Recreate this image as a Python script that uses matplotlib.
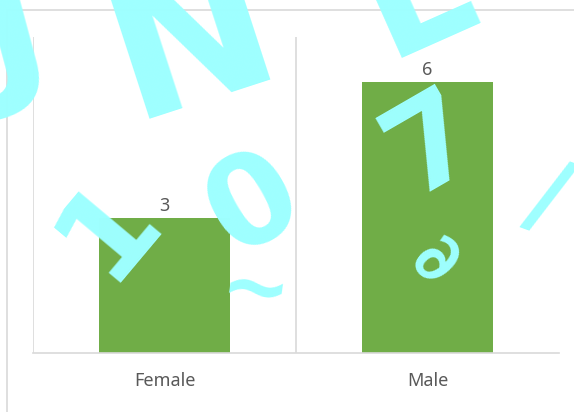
import matplotlib

matplotlib.use("Agg")
import matplotlib.pyplot as plt
from matplotlib.lines import Line2D

# gender counts
categories = ["Female", "Male"]
counts = [3, 6]

bar_color = "#70ad47"
grid_color = "#d9d9d9"
text_color = "#595959"
mark_color = "#9effff"

plt.rcParams["font.family"] = ["Noto Sans", "DejaVu Sans"]

W, H = 574, 412
fig = plt.figure(figsize=(W / 100, H / 100), dpi=100)
ax = fig.add_axes([33 / W, (H - 353) / H, (559 - 33) / W, (353 - 37) / H])

x = list(range(len(categories)))
bars = ax.bar(x, counts, width=0.5, color=bar_color, zorder=2)
for b, v in zip(bars, counts):
    ax.annotate(str(v), (b.get_x() + b.get_width() / 2, v), xytext=(0, 2),
                textcoords="offset points", ha="center", va="bottom",
                fontsize=13, color=text_color)

ax.set_xlim(-0.5, len(categories) - 0.5)
ax.set_ylim(0, 7)
ax.set_xticks(x)
ax.set_xticklabels(categories, fontsize=13, color=text_color)
ax.tick_params(axis="x", length=0, pad=14)
ax.set_yticks([])
# category separators
ax.set_xticks([i - 0.5 for i in x], minor=True)
ax.tick_params(axis="x", which="minor", length=0)
ax.grid(True, axis="x", which="minor", color=grid_color, lw=1.2, zorder=0)
for s in ["top", "right", "left"]:
    ax.spines[s].set_visible(False)
ax.spines["bottom"].set_color(grid_color)
ax.spines["bottom"].set_linewidth(1.2)

# outer chart frame
fig.add_artist(Line2D([7 / W, 1], [1 - 10 / H, 1 - 10 / H], color=grid_color, lw=1.2))
fig.add_artist(Line2D([7 / W, 7 / W], [0, 1 - 10 / H], color=grid_color, lw=1.2))

# watermark glyphs: char, px x, px y (from top), rotation, size
watermark = [
    ("J", 12, 35, 15, 120),
    ("N", 192, 42, 18, 140),
    ("E", 420, -8, 24, 120),
    ("1", 108, 228, 50, 90),
    ("0", 254, 205, 30, 90),
    ("~", 255, 292, -8, 60),
    ("7", 433, 145, 30, 90),
    ("∂", 435, 262, -35, 50),
    ("/", 548, 200, -20, 70),
]
for ch, px, py, rot, size in watermark:
    fig.text(px / W, 1 - py / H, ch, ha="center", va="center", rotation=rot,
             fontsize=size, fontweight="bold", color=mark_color,
             family="DejaVu Sans", zorder=10)

fig.savefig("out.png", dpi=100)
